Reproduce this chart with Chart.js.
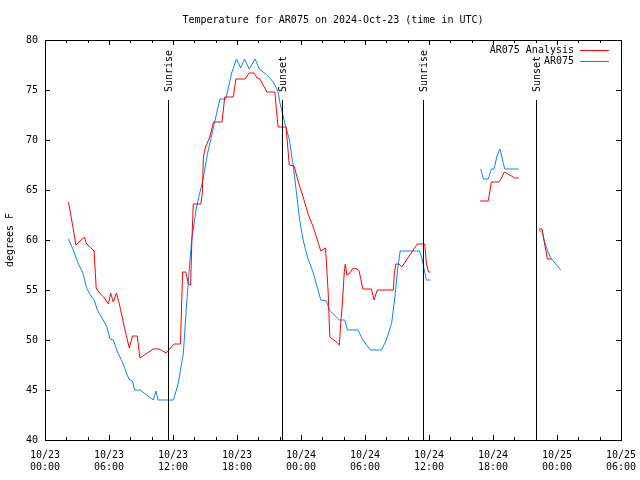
<!DOCTYPE html>
<html>
<head>
<meta charset="utf-8">
<script src="https://cdn.jsdelivr.net/npm/chart.js@4"></script>
<style>
  body { margin: 0; background: #fff; }
  #wrap { width: 640px; height: 480px; }
</style>
</head>
<body>
<div id="wrap"><canvas id="tempChart" width="640" height="480"></canvas></div>
<script>
// hours since 10/23 00:00 UTC, null = missing data
var analysisHours = [2.2, 2.55, 2.9, 3.7, 3.85, 4.2, 4.6, 4.8, 5.1, 5.5, 5.95, 6.15, 6.4, 6.7, 6.95, 7.5, 7.9, 8.2, 8.65, 8.9,
  10.15, 10.7, 11.35, 12.1, 12.7, 12.9, 13.2, 13.45, 13.65, 13.75, 13.9, 14.6, 14.75, 14.85, 15.05, 15.45, 15.8, 16.6, 16.85, 17.65,
  17.9, 18.75, 19.15, 19.6, 19.9, 20.15, 20.8, 21.55, 21.7, 21.85, 22.6, 22.9, 23.35, 23.75, 24.2, 24.7, 25.15, 25.6, 25.85, 26.3,
  26.55, 26.7, 27.2, 27.6, 27.7, 27.9, 28.05, 28.15, 28.3, 28.5, 28.9, 29.25, 29.45, 29.8, 30.6, 30.85, 31.15, 32.65, 32.75, 32.9,
  33.2, 33.45, 34.9, 35.6, 35.75, 35.95, 36.15, 38,
  40.8, 41.55, 41.7, 41.85, 42.55, 42.8, 43.05, 43.4, 44.05, 44.4, 45,
  46.3, 46.6, 46.75, 46.95, 47.1, 47.5];
var analysisTemps = [63.8, 61.7, 59.5, 60.3, 59.7, 59.3, 58.9, 55.2, 54.7, 54.3, 53.6, 54.7, 53.8, 54.7, 53.7, 51, 49.2, 50.4, 50.4, 48.2,
  49.1, 49.1, 48.7, 49.6, 49.6, 56.8, 56.8, 55.6, 55.5, 59.3, 63.6, 63.6, 64.7, 68.3, 69.3, 70.3, 71.8, 71.8, 74.3, 74.3,
  76.1, 76.1, 76.7, 76.7, 76.2, 76.1, 74.8, 74.8, 73, 71.3, 71.3, 67.5, 67.4, 65.8, 64.3, 62.5, 61.3, 59.8, 58.9, 59.2,
  54.7, 50.3, 49.9, 49.5, 51.3, 54, 56.7, 57.6, 56.5, 56.6, 57.2, 57.1, 56.9, 55.1, 55.1, 54, 55, 55, 56.7, 57.6,
  57.6, 57.3, 59.6, 59.6, 57.7, 56.8, 56.8, null,
  63.9, 63.9, 64.8, 65.8, 65.8, 66.2, 66.8, 66.6, 66.2, 66.2, null,
  61.1, 61.1, 60.1, 59, 58.1, 58.1];

var obsHours = [2.2, 2.65, 3.05, 3.55, 3.9, 4.2, 4.65, 4.9, 5.3, 5.8, 6.1, 6.4, 6.8, 7.3, 7.7, 7.95, 8.2, 8.4, 8.9, 9.55,
  10.15, 10.4, 10.6, 12.05, 12.5, 12.97, 13.35, 13.75, 14.2, 14.8, 15.25, 15.8, 16.4, 16.95, 17.5, 17.95, 18.35, 18.7, 19.15, 19.7,
  20.1, 20.8, 21.4, 21.8, 22.05, 22.5, 22.9, 23.3, 23.6, 23.85, 24.2, 24.6, 25.15, 25.6, 25.85, 26.4, 26.65, 27.6, 28.1, 28.35,
  29.35, 29.8, 30.5, 31.55, 32, 32.5, 32.8, 33.05, 33.3, 35.1, 35.3, 35.5, 35.75, 36.15, 38,
  40.85, 41.1, 41.55, 41.85, 42.1, 42.4, 42.65, 42.85, 43.1, 44.4, 45,
  46.3, 46.65, 46.85, 47.1, 47.35, 47.8, 48.35];
var obsTemps = [60.1, 59, 57.8, 56.7, 55.2, 54.6, 53.9, 53, 52.3, 51.3, 50.1, 50, 48.8, 47.7, 46.5, 46, 45.9, 45, 45, 44.5,
  44, 44.9, 44, 44, 45.7, 48.7, 54.7, 60, 63.3, 66, 68.7, 71.3, 74.1, 74.1, 76.7, 78.1, 77.2, 78.1, 77.1, 78.1,
  77.1, 76.5, 75.8, 75, 73.6, 71.6, 70.1, 67.2, 64.5, 62.2, 60, 58.3, 56.7, 55, 54, 53.9, 53, 52, 52, 51,
  51, 50, 49, 49, 50, 51.7, 54.3, 57, 58.9, 58.9, 58.3, 57.3, 56, 56, null,
  67.1, 66.1, 66.1, 67.1, 67.1, 68.5, 69.1, 68.2, 67.1, 67.1, null,
  61, 60.7, 59.8, 59, 58.3, 57.7, 57];

var sunHours = [11.53, 22.19, 35.44, 46.03];
var sunLabels = ['Sunrise', 'Sunset', 'Sunrise', 'Sunset'];

var tickDates = ['10/23', '10/23', '10/23', '10/23', '10/24', '10/24', '10/24', '10/24', '10/25', '10/25'];
var tickTimes = ['00:00', '06:00', '12:00', '18:00', '00:00', '06:00', '12:00', '18:00', '00:00', '06:00'];

var FONT = '"DejaVu Sans Mono", "Liberation Mono", monospace';

function toPoints(hours, temps) {
    return hours.map(function(h, i) { return { x: h, y: temps[i] }; });
}

var gnuplotDecor = {
    id: 'gnuplotDecor',
    afterDatasetsDraw: function(chart) {
        var ctx = chart.ctx;
        var area = chart.chartArea;
        var xs = chart.scales.x;
        var ys = chart.scales.y;
        ctx.save();
        ctx.strokeStyle = '#000';
        ctx.lineWidth = 1;

        // sunrise / sunset markers
        ctx.font = '10px ' + FONT;
        ctx.fillStyle = '#000';
        sunHours.forEach(function(h, i) {
            var px = Math.round(xs.getPixelForValue(h)) + 0.5;
            ctx.beginPath();
            ctx.moveTo(px, area.top + 60);
            ctx.lineTo(px, area.bottom);
            ctx.stroke();
            ctx.save();
            ctx.translate(px + 1, area.top + 52);
            ctx.rotate(-Math.PI / 2);
            ctx.textAlign = 'left';
            ctx.textBaseline = 'middle';
            ctx.fillText(sunLabels[i], 0, 0);
            ctx.restore();
        });

        // inward ticks
        ctx.beginPath();
        for (var h = 0; h <= 54; h += 2) {
            var px = Math.round(xs.getPixelForValue(h)) + 0.5;
            var len = (h % 6 === 0) ? 5 : 3;
            ctx.moveTo(px, area.bottom);
            ctx.lineTo(px, area.bottom - len);
            ctx.moveTo(px, area.top);
            ctx.lineTo(px, area.top + len);
        }
        for (var v = 40; v <= 80; v += 5) {
            var py = Math.round(ys.getPixelForValue(v)) + 0.5;
            ctx.moveTo(area.left, py);
            ctx.lineTo(area.left + 5, py);
            ctx.moveTo(area.right, py);
            ctx.lineTo(area.right - 5, py);
        }
        ctx.stroke();

        // border
        ctx.strokeRect(Math.round(area.left) + 0.5, Math.round(area.top) + 0.5,
            Math.round(area.right - area.left), Math.round(area.bottom - area.top));

        // key
        ctx.textAlign = 'right';
        ctx.textBaseline = 'middle';
        ctx.font = '10px ' + FONT;
        chart.data.datasets.forEach(function(ds, i) {
            var y = area.top + 10 + i * 11 + 0.5;
            ctx.fillStyle = '#000';
            ctx.fillText(ds.label, area.right - 47, y);
            ctx.strokeStyle = ds.borderColor;
            ctx.beginPath();
            ctx.moveTo(area.right - 41, y);
            ctx.lineTo(area.right - 12, y);
            ctx.stroke();
        });
        ctx.restore();
    }
};

var ctx = document.getElementById('tempChart').getContext('2d');
var tempChart = new Chart(ctx, {
    type: 'line',
    data: {
        datasets: [{
            label: 'AR075 Analysis',
            data: toPoints(analysisHours, analysisTemps),
            borderColor: '#ff0000',
            borderWidth: 1,
            pointRadius: 0,
            tension: 0,
            spanGaps: false
        }, {
            label: 'AR075',
            data: toPoints(obsHours, obsTemps),
            borderColor: '#0a84ff',
            borderWidth: 1,
            pointRadius: 0,
            tension: 0,
            spanGaps: false
        }]
    },
    options: {
        responsive: false,
        animation: false,
        layout: { padding: { top: 0, right: 19, left: 0, bottom: 0 } },
        plugins: {
            legend: { display: false },
            tooltip: { enabled: false },
            title: {
                display: true,
                fullSize: false,
                text: 'Temperature for AR075 on 2024-Oct-23 (time in UTC)',
                color: '#000',
                font: { family: FONT, size: 10, weight: 'normal' },
                padding: { top: 14, bottom: 14 }
            }
        },
        scales: {
            x: {
                type: 'linear',
                min: 0,
                max: 54,
                grid: { display: false, drawTicks: false },
                border: { display: false },
                afterFit: function(scale) {
                    scale.height = 40;
                    scale.paddingLeft = 0;
                    scale.paddingRight = 0;
                },
                ticks: {
                    stepSize: 6,
                    autoSkip: false,
                    maxRotation: 0,
                    padding: 9,
                    color: '#000',
                    font: { family: FONT, size: 10, lineHeight: 1.2 },
                    callback: function(value) {
                        var i = Math.round(value / 6);
                        return [tickDates[i], tickTimes[i]];
                    }
                }
            },
            y: {
                min: 40,
                max: 80,
                grid: { display: false, drawTicks: false },
                border: { display: false },
                afterFit: function(scale) {
                    scale.width = 45;
                    scale.paddingTop = 0;
                    scale.paddingBottom = 0;
                },
                title: {
                    display: true,
                    text: 'degrees F',
                    color: '#000',
                    font: { family: FONT, size: 10 },
                    padding: { top: 4, bottom: 0 }
                },
                ticks: {
                    stepSize: 5,
                    padding: 7,
                    color: '#000',
                    font: { family: FONT, size: 10 }
                }
            }
        }
    },
    plugins: [gnuplotDecor]
});
</script>
</body>
</html>
